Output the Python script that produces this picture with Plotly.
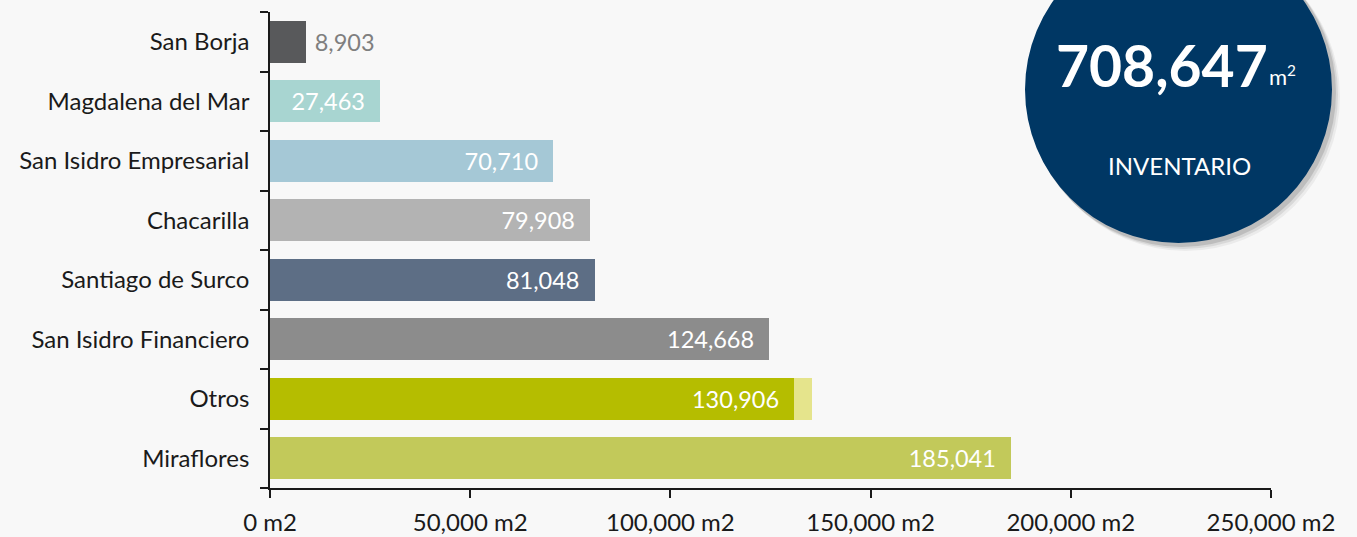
import plotly.graph_objects as go

# Data (top-to-bottom order as in the reference)
categories = ["San Borja", "Magdalena del Mar", "San Isidro Empresarial", "Chacarilla",
              "Santiago de Surco", "San Isidro Financiero", "Otros", "Miraflores"]
values = [8903, 27463, 70710, 79908, 81048, 124668, 130906, 185041]
bar_colors = ["#58595b", "#a8d5d1", "#a5c8d6", "#b3b3b3", "#5d6e85", "#8c8c8c", "#b5bd00", "#c2c95a"]
otros_extra = 4400
otros_extra_color = "#e5e48c"
x_ticks = [0, 50000, 100000, 150000, 200000, 250000]
x_tick_labels = ["0 m2", "50,000 m2", "100,000 m2", "150,000 m2", "200,000 m2", "250,000 m2"]
total_value = "708,647"
total_label = "INVENTARIO"

W, H = 1357, 537
FONT = "Lato"
NB = "\u00a0"

def px(x):
    return x / W

def py(y):
    return 1 - y / H

texts = []
positions = []
tcolors = []
for c, v in zip(categories, values):
    if v < 20000:
        texts.append(NB + f"{v:,}")
        positions.append("outside")
        tcolors.append("#7f7f7f")
    else:
        texts.append(f"{v:,}" + NB * 2)
        positions.append("inside")
        tcolors.append("#ffffff")

fig = go.Figure()
fig.add_trace(go.Bar(
    y=categories, x=values, orientation="h",
    marker=dict(color=bar_colors, line=dict(width=0)),
    text=texts, textposition=positions, insidetextanchor="end",
    textfont=dict(family=FONT, size=23.5, color=tcolors),
    constraintext="none", cliponaxis=False, hoverinfo="skip",
))
fig.add_trace(go.Bar(
    y=["Otros"], x=[otros_extra], orientation="h",
    marker=dict(color=otros_extra_color, line=dict(width=0)),
    hoverinfo="skip",
))

# circle with shadow
cx, cy, r = 1178.5, 89.5, 153.5
for off, op in [(7, 0.05), (5, 0.08), (3, 0.12)]:
    fig.add_shape(type="circle", xref="paper", yref="paper",
                  x0=px(cx - r + off - 1), x1=px(cx + r + off + 1),
                  y0=py(cy + r + off + 1), y1=py(cy - r + off - 1),
                  fillcolor=f"rgba(0,0,0,{op})", line=dict(width=0), layer="above")
fig.add_shape(type="circle", xref="paper", yref="paper",
              x0=px(cx - r), x1=px(cx + r), y0=py(cy + r), y1=py(cy - r),
              fillcolor="#003764", line=dict(width=0), layer="above")

fig.add_annotation(xref="paper", yref="paper", x=px(1162), y=py(65),
                   text=f"<b>{total_value}</b>", showarrow=False,
                   font=dict(family=FONT, size=57, color="#ffffff"),
                   xanchor="center", yanchor="middle")
fig.add_annotation(xref="paper", yref="paper", x=px(1267), y=py(76),
                   text="m<sup>2</sup>", showarrow=False,
                   font=dict(family=FONT, size=22, color="#ffffff"),
                   xanchor="left", yanchor="middle")
fig.add_annotation(xref="paper", yref="paper", x=px(1179), y=py(165),
                   text=total_label, showarrow=False,
                   font=dict(family=FONT, size=24, color="#ffffff"),
                   xanchor="center", yanchor="middle")

fig.update_layout(
    width=W, height=H, autosize=False,
    margin=dict(l=0, r=0, t=0, b=0),
    paper_bgcolor="#f8f8f8", plot_bgcolor="#f8f8f8",
    barmode="stack", bargap=0.3, showlegend=False,
    font=dict(family=FONT, size=24, color="#1a1a1a"),
    xaxis=dict(domain=[px(270), px(1271)], range=[0, 250000],
               tickvals=x_ticks, ticktext=x_tick_labels,
               showgrid=False, zeroline=False, showline=True,
               linecolor="#1a1a1a", linewidth=1.5,
               ticks="outside", ticklen=8, tickwidth=1.5, tickcolor="#1a1a1a",
               ticklabelstandoff=4, automargin=False, fixedrange=True),
    yaxis=dict(domain=[py(488), py(12)],
               categoryorder="array", categoryarray=categories[::-1],
               showgrid=False, zeroline=False, showline=True,
               linecolor="#1a1a1a", linewidth=1.5,
               ticks="outside", ticklen=8, tickwidth=1.5, tickcolor="#1a1a1a",
               tickson="boundaries", ticklabelstandoff=14,
               automargin=False, fixedrange=True),
)

fig.write_html("out.html", config={"displayModeBar": False},
               post_script="document.body.style.margin='0';document.body.style.overflow='hidden';")
